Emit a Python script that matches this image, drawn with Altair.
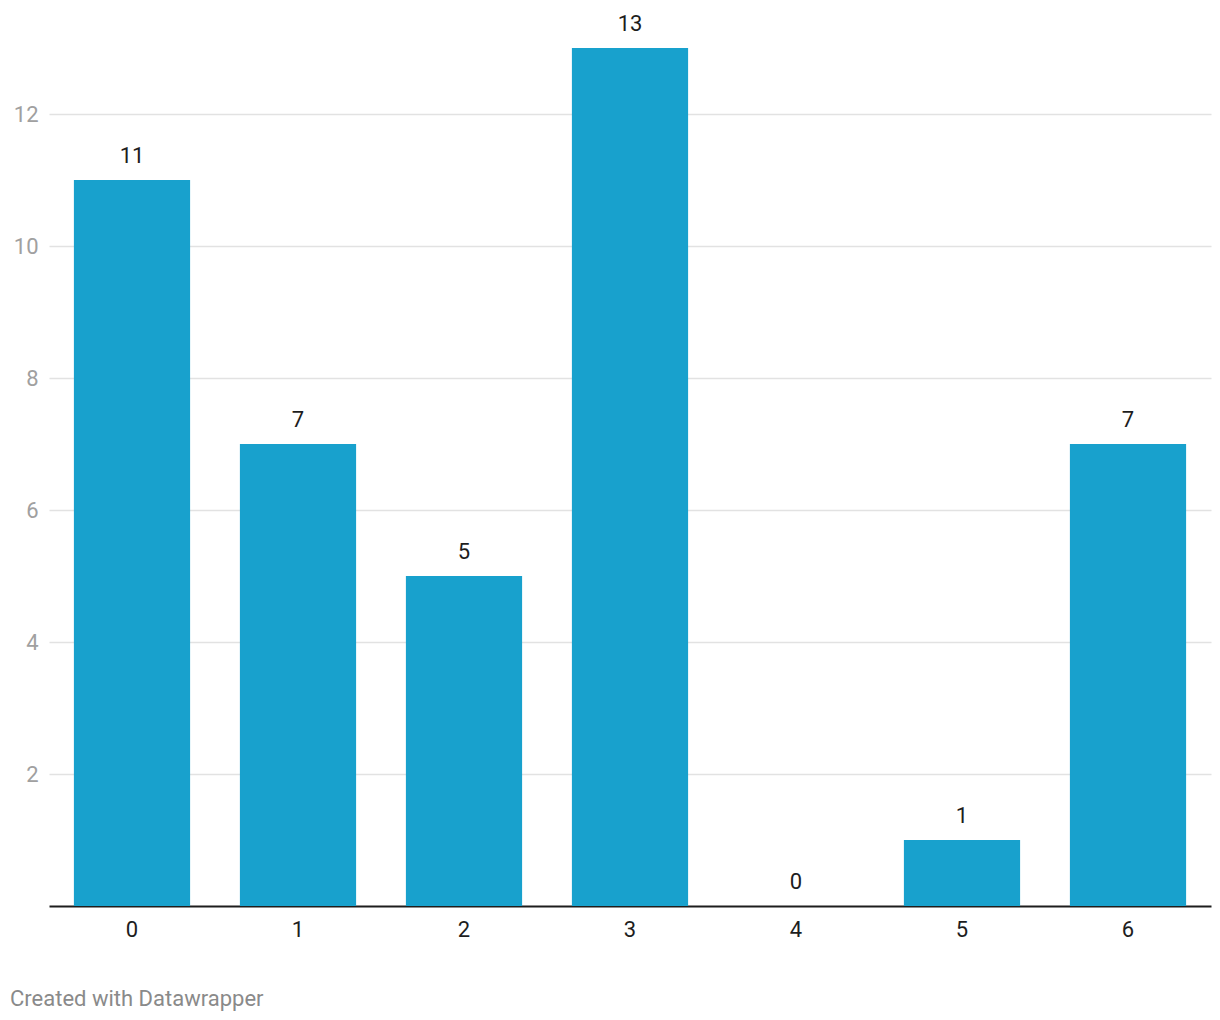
import altair as alt
import pandas as pd

categories = ["0", "1", "2", "3", "4", "5", "6"]
values = [11, 7, 5, 13, 0, 1, 7]
y_ticks = [2, 4, 6, 8, 10, 12]

df = pd.DataFrame({"cat": categories, "val": values})

FONT = "Roboto"

x = alt.X("cat:N", sort=categories, title=None,
          scale=alt.Scale(paddingInner=0.3, paddingOuter=0.15),
          axis=alt.Axis(labelAngle=0, labelFontSize=22, labelColor="#1d1d1d",
                        labelFont=FONT, labelPadding=13, ticks=False,
                        domainColor="#1d1d1d", domainWidth=2, grid=False))
y = alt.Y("val:Q", title=None,
          scale=alt.Scale(domain=[0, 13], nice=False),
          axis=alt.Axis(values=y_ticks, format="d", labelFontSize=22, labelColor="#a0a0a0",
                        labelFont=FONT, labelPadding=11, ticks=False, domain=False,
                        grid=True, gridColor="#e2e2e2", gridWidth=1.5))

bars = alt.Chart(df).mark_bar(color="#18a1cd").encode(x=x, y=y)
labels = alt.Chart(df).mark_text(baseline="bottom", dy=-12, fontSize=22,
                                 font=FONT, color="#1d1d1d").encode(
    x=alt.X("cat:N", sort=categories), y="val:Q", text="val:Q")

chart = (bars + labels).properties(
    width=1162, height=858,
    background="white",
    autosize=alt.AutoSizeParams(type="none"),
    padding={"left": 49, "top": 48, "right": 9, "bottom": 114},
    title=alt.TitleParams("Created with Datawrapper", orient="bottom", anchor="start",
                          frame="group",
                          font=FONT, fontSize=22, fontWeight="normal", color="#8a8a8a",
                          dx=-39, offset=49),
).configure_view(stroke=None)

chart.save("out.html", embed_options={"renderer": "svg", "actions": False})
